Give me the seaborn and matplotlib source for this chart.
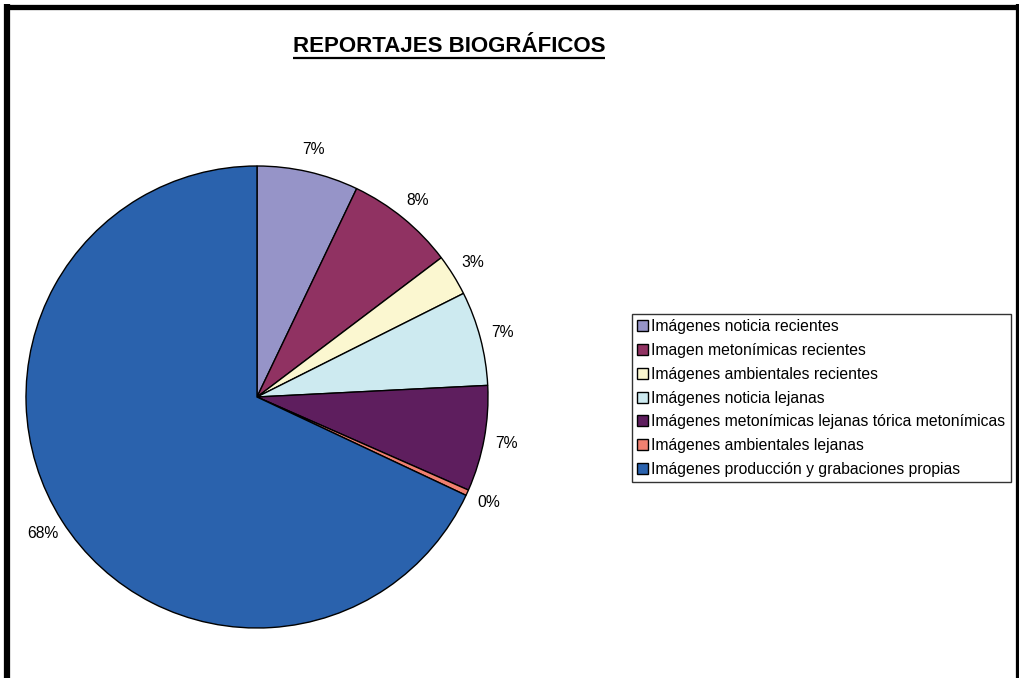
import matplotlib
matplotlib.use('Agg')
import matplotlib.pyplot as plt
import seaborn as sns
from matplotlib.lines import Line2D

# data
categorias = ['Imágenes noticia recientes',
              'Imagen metonímicas recientes',
              'Imágenes ambientales recientes',
              'Imágenes noticia lejanas',
              'Imágenes metonímicas lejanas tórica metonímicas',
              'Imágenes ambientales lejanas',
              'Imágenes producción y grabaciones propias']
porcentajes = [7.1, 7.6, 2.9, 6.6, 7.4, 0.4, 68.0]
colores = ['#9694C8', '#903262', '#FBF7D0', '#CDEAF0', '#5E1E5E', '#F08070', '#2A62AD']

sns.set_theme(style='white')
plt.rcParams['font.family'] = ['Liberation Sans', 'DejaVu Sans']
plt.rcParams['text.color'] = 'black'

fig = plt.figure(figsize=(10.19, 6.78), dpi=100)
fig.patch.set_facecolor('white')

W, H = 1019, 678
cx, cy, r = 257, 397, 231
ax = fig.add_axes([(cx - r) / W, (H - cy - r) / H, 2 * r / W, 2 * r / H])

paleta = sns.color_palette(colores)
wedges, texts, autotexts = ax.pie(
    porcentajes, colors=paleta, startangle=90, counterclock=False,
    autopct='%.0f%%', pctdistance=1.10,
    wedgeprops=dict(edgecolor='black', linewidth=1),
    textprops=dict(fontsize=11.3, color='black'))
for t in autotexts:
    t.set_clip_on(False)
ax.set_xlim(-1, 1)
ax.set_ylim(-1, 1)
ax.set_aspect('auto')

leg = fig.legend(wedges, categorias, loc='upper left',
                 bbox_to_anchor=(632 / W, 1 - 314 / H),
                 fontsize=11.3, frameon=True, fancybox=False,
                 edgecolor='black', handlelength=0.7, handleheight=0.7,
                 handletextpad=0.2, labelspacing=0.56, borderpad=0.33,
                 borderaxespad=0)
leg.get_frame().set_linewidth(1)
for h in leg.legend_handles:
    h.set_edgecolor('black')
    h.set_linewidth(1)

# title with underline
titulo = fig.text(449 / W, 1 - 46 / H, 'REPORTAJES BIOGRÁFICOS',
                  ha='center', va='center', fontsize=16, fontweight='bold',
                  color='black')
fig.canvas.draw()
bb = titulo.get_window_extent()
fig.add_artist(Line2D([bb.x0 / W, bb.x1 / W], [(bb.y0 - 1) / H, (bb.y0 - 1) / H],
                      color='black', linewidth=1.6, solid_capstyle='butt'))

# outer frame (bottom edge is cut off)
borde = dict(color='black', solid_capstyle='butt')
fig.add_artist(Line2D([7 / W, 7 / W], [0, 1 - 4 / H], linewidth=4.5, **borde))
fig.add_artist(Line2D([4 / W, 1019 / W], [1 - 6.5 / H, 1 - 6.5 / H], linewidth=3.8, **borde))
fig.add_artist(Line2D([1018.5 / W, 1018.5 / W], [0, 1 - 4 / H], linewidth=4.5, **borde))

fig.savefig('out.png', dpi=100)
